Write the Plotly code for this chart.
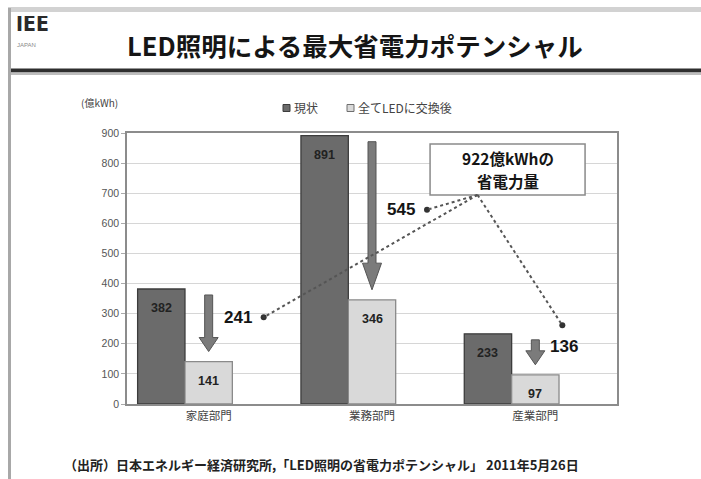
import plotly.graph_objects as go

# ---- data -------------------------------------------------------------
categories = ["家庭部門", "業務部門", "産業部門"]
current = [382, 891, 233]          # 現状 (億kWh)
after_led = [141, 346, 97]         # 全てLEDに交換後 (億kWh)
series_names = ["現状", "全てLEDに交換後"]
y_ticks = [0, 100, 200, 300, 400, 500, 600, 700, 800, 900]
unit_label = "(億kWh)"
title_text = "LED照明による最大省電力ポテンシャル"
source_text = "（出所）日本エネルギー経済研究所,「LED照明の省電力ポテンシャル」 2011年5月26日"

saving = [c - a for c, a in zip(current, after_led)]
total_saving = sum(saving)

# ---- geometry helpers -------------------------------------------------
W, H = 701, 479
ML, MR, MT, MB = 127, 84, 133, 75
PW, PH = W - ML - MR, H - MT - MB
Y_MAX = 900
UPP = Y_MAX / PH                 # y units per pixel
XPP = 3 / PW                     # x units per pixel


def xp(px):
    return (px - ML) / PW


def yp(py):
    return (H - MB - py) / PH


CJK = "Noto Sans CJK JP, Liberation Sans, sans-serif"
NUM = "Liberation Sans, Arial, sans-serif"

BAR_W = 0.29
OFF_DARK = -0.435
OFF_LIGHT = -0.145

fig = go.Figure()

fig.add_trace(go.Bar(
    x=list(range(len(categories))), y=current, name=series_names[0],
    width=BAR_W, offset=OFF_DARK,
    marker=dict(color="#6b6b6b", line=dict(color="#3c3c3c", width=1.3)),
    showlegend=False, hoverinfo="skip",
))
fig.add_trace(go.Bar(
    x=list(range(len(categories))), y=after_led, name=series_names[1],
    width=BAR_W, offset=OFF_LIGHT,
    marker=dict(color="#d9d9d9", line=dict(color="#8a8a8a", width=1.3)),
    showlegend=False, hoverinfo="skip",
))

annotations = []
shapes = []

# value labels inside the top of each bar
for i in range(len(categories)):
    for vals, off in ((current, OFF_DARK), (after_led, OFF_LIGHT)):
        annotations.append(dict(
            x=i + off + BAR_W / 2, y=vals[i], xref="x", yref="y",
            text=f"<b>{vals[i]}</b>", showarrow=False, yshift=-19,
            font=dict(family=NUM, size=12.5, color="#222222"),
        ))

# downward reduction arrows over the LED bars
shaft_hw = 4 * XPP
head_hw = 9.5 * XPP
for i in range(len(categories)):
    xc = i + OFF_LIGHT + BAR_W / 2
    top = current[i] - 6 * UPP
    tip = after_led[i] + 10 * UPP
    length_px = (top - tip) / UPP
    head_len = max(14, 0.18 * length_px) * UPP
    base = tip + head_len
    xs = [xc - shaft_hw, xc + shaft_hw, xc + shaft_hw, xc + head_hw, xc,
          xc - head_hw, xc - shaft_hw, xc - shaft_hw]
    ys = [top, top, base, base, tip, base, base, top]
    fig.add_trace(go.Scatter(
        x=xs, y=ys, mode="lines", fill="toself", fillcolor="#7b7b7b",
        line=dict(color="#555555", width=1), showlegend=False, hoverinfo="skip",
    ))

# reduction amounts beside the arrows
label_pos = []
for i in range(len(categories)):
    xc = i + OFF_LIGHT + BAR_W / 2
    top = current[i] - 6 * UPP
    tip = after_led[i] + 10 * UPP
    lx, ly = xc + 29 * XPP, (top + tip) / 2 + 20
    label_pos.append((lx, ly))
    annotations.append(dict(
        x=lx, y=ly, xref="x", yref="y", text=f"<b>{saving[i]}</b>",
        showarrow=False, font=dict(family=NUM, size=17, color="#151515"),
    ))

# total-saving callout box (frame + two text lines)
box_x, box_y = 1.83, 779
box_hw_px, box_hh_px = 77.5, 25.5
shapes.append(dict(
    type="rect", xref="x", yref="y",
    x0=box_x - box_hw_px * XPP, x1=box_x + box_hw_px * XPP,
    y0=box_y - box_hh_px * UPP, y1=box_y + box_hh_px * UPP,
    fillcolor="white", line=dict(color="#8a8a8a", width=1.5), layer="above",
))
for text, dy_px in ((f"{total_saving}億kWhの", 11.5), ("省電力量", -11.5)):
    annotations.append(dict(
        x=box_x, y=box_y + dy_px * UPP, xref="x", yref="y",
        text=f"<b>{text}</b>", showarrow=False, yanchor="middle",
        font=dict(family=CJK, size=15.5, color="#151515"),
    ))
apex_x = box_x - 30 * XPP
apex_y = box_y - box_hh_px * UPP

# dotted connectors from the callout to each amount
ends = []
for i, (lx, ly) in enumerate(label_pos):
    if i < len(label_pos) - 1:
        ex, ey = lx + 26 * XPP, ly
    else:
        ex, ey = lx - 2 * XPP, ly + 21 * UPP
    ends.append((ex, ey))
    shapes.append(dict(
        type="line", xref="x", yref="y", x0=apex_x, y0=apex_y, x1=ex, y1=ey,
        line=dict(color="#555555", width=2, dash="dot"), layer="above",
    ))
fig.add_trace(go.Scatter(
    x=[e[0] for e in ends], y=[e[1] for e in ends], mode="markers",
    marker=dict(size=6, color="#333333"), showlegend=False, hoverinfo="skip",
))

# custom legend
legend_items = [(283, "#6b6b6b", "#3c3c3c"), (347, "#d9d9d9", "#6f6f6f")]
for (lx, fill, edge), name in zip(legend_items, series_names):
    shapes.append(dict(
        type="rect", xref="paper", yref="paper",
        x0=xp(lx), x1=xp(lx + 7), y0=yp(111.5), y1=yp(104.5),
        fillcolor=fill, line=dict(color=edge, width=1),
    ))
    annotations.append(dict(
        x=xp(lx + 9), y=yp(108), xref="paper", yref="paper", text=name,
        showarrow=False, xanchor="left", yanchor="middle",
        font=dict(family=CJK, size=12, color="#444444"),
    ))

# unit label
annotations.append(dict(
    x=xp(79), y=yp(102), xref="paper", yref="paper", text=unit_label,
    showarrow=False, xanchor="left", yanchor="middle",
    font=dict(family=CJK, size=10, color="#444444"),
))

# slide header
shapes += [
    dict(type="rect", xref="paper", yref="paper", x0=xp(8), x1=xp(701),
         y0=yp(12), y1=yp(7), fillcolor="#d2d2d2", line=dict(width=0)),
    dict(type="rect", xref="paper", yref="paper", x0=xp(8), x1=xp(11),
         y0=yp(479), y1=yp(8), fillcolor="#a8a8a8", line=dict(width=0)),
    dict(type="rect", xref="paper", yref="paper", x0=xp(11), x1=xp(701),
         y0=yp(72.5), y1=yp(68.5), fillcolor="#2e2e2e", line=dict(width=0)),
    dict(type="rect", xref="paper", yref="paper", x0=xp(11), x1=xp(701),
         y0=yp(75), y1=yp(72.5), fillcolor="#bdbdbd", line=dict(width=0)),
]
annotations += [
    dict(x=xp(14), y=yp(38), xref="paper", yref="paper", text="<b>IEE</b>",
         showarrow=False, xanchor="left", yanchor="bottom", height=20,
         valign="bottom",
         font=dict(family="DejaVu Sans Condensed, Liberation Sans Narrow, sans-serif",
                   size=21, color="#2a2a2a")),
    dict(x=xp(15), y=yp(40), xref="paper", yref="paper", text="JAPAN",
         showarrow=False, xanchor="left", yanchor="top",
         font=dict(family=NUM, size=6, color="#8a8a8a")),
    dict(x=xp(355), y=yp(45), xref="paper", yref="paper",
         text=f"<b>{title_text}</b>", showarrow=False,
         xanchor="center", yanchor="middle",
         font=dict(family=CJK, size=25.5, color="#151515")),
    dict(x=xp(62), y=yp(464), xref="paper", yref="paper",
         text=f"<b>{source_text}</b>", showarrow=False,
         xanchor="left", yanchor="middle",
         font=dict(family=CJK, size=13, color="#222222")),
]

fig.update_layout(
    width=W, height=H,
    margin=dict(l=ML, r=MR, t=MT, b=MB),
    paper_bgcolor="white", plot_bgcolor="white",
    showlegend=False,
    annotations=annotations, shapes=shapes,
    xaxis=dict(
        range=[-0.5, 2.5], tickvals=list(range(len(categories))),
        ticktext=categories, showgrid=False, zeroline=False,
        showline=True, mirror=True, linecolor="#8c8c8c", linewidth=1.5,
        ticks="", tickfont=dict(family=CJK, size=11.5, color="#444444"),
        fixedrange=True,
    ),
    yaxis=dict(
        range=[0, Y_MAX], tickvals=y_ticks, showgrid=True,
        gridcolor="#d6d6d6", gridwidth=1, zeroline=False,
        showline=True, mirror=True, linecolor="#8c8c8c", linewidth=1.5,
        ticks="outside", ticklen=4, tickcolor="#aaaaaa",
        tickfont=dict(family=NUM, size=10.5, color="#555555"),
        fixedrange=True,
    ),
)

fig.write_html("out.html")
